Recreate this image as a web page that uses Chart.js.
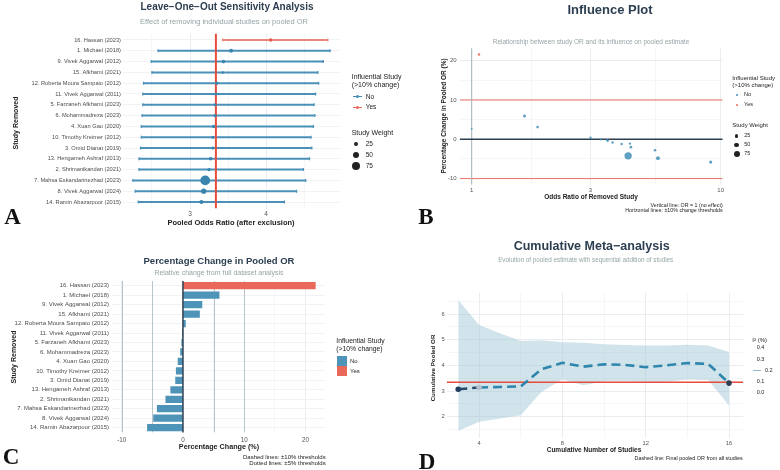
<!DOCTYPE html>
<html>
<head>
<meta charset="utf-8">
<script src="https://cdn.jsdelivr.net/npm/chart.js@4.4.1/dist/chart.umd.min.js"></script>
<style>
    body { margin: 0; background: #fff; }
    #page { position: relative; width: 780px; height: 470px; overflow: hidden; font-family: "Liberation Sans", Arial, sans-serif; }
    #page canvas { position: absolute; }
    .t { position: absolute; white-space: nowrap; line-height: 1; }
    .k { position: absolute; }
</style>
</head>
<body>
<div id="page">
    <canvas id="looChart" width="390" height="235" style="left:0;top:0"></canvas>
    <canvas id="influenceChart" width="390" height="235" style="left:390px;top:0"></canvas>
    <canvas id="pctChart" width="390" height="235" style="left:0;top:235px"></canvas>
    <canvas id="cumChart" width="390" height="235" style="left:390px;top:235px"></canvas>
</div>
<script>
// ---- data ----
const studies = [
    '16. Hassan (2023)', '1. Michael (2018)', '9. Vivek Aggarwal (2012)', '15. Afkhami (2021)',
    '12. Roberta Moura Sampaio (2012)', '11. Vivek Aggarwal (2011)', '5. Farzaneh Afkhami (2023)',
    '6. Mohammadreza (2023)', '4. Xuan Gao (2020)', '10. Timothy Kreimer (2012)', '3. Omid Dianat (2019)',
    '13. Hengameh Ashraf (2013)', '2. Shrimanikandan (2021)', '7. Mahsa Eskandarinezhad (2023)',
    '8. Vivek Aggarwal (2024)', '14. Ramin Abazarpoor (2015)'
];
const looOR = [4.06, 3.54, 3.44, 3.43, 3.35, 3.34, 3.33, 3.33, 3.31, 3.30, 3.30, 3.27, 3.25, 3.20, 3.18, 3.15];
const looLower = [3.43, 2.58, 2.49, 2.50, 2.39, 2.38, 2.38, 2.37, 2.36, 2.36, 2.35, 2.33, 2.33, 2.25, 2.28, 2.32];
const looUpper = [4.81, 4.84, 4.75, 4.68, 4.69, 4.65, 4.63, 4.64, 4.62, 4.59, 4.60, 4.57, 4.49, 4.52, 4.40, 4.24];
const pctChange = [21.6, 5.9, 3.1, 2.7, 0.4, -0.05, -0.2, -0.4, -0.8, -1.1, -1.2, -2.0, -2.8, -4.2, -4.8, -5.8];
const studyOR = [1.07, 1.63, 1.84, 1.0, 3.0, 3.3, 3.5, 3.52, 3.68, 4.32, 4.0, 4.36, 5.45, 4.25, 5.6, 9.12];
const studyWeight = [12, 20, 15, 1, 10, 6, 8, 9, 10, 9, 9, 14, 13, 92, 35, 22];
const pooledOR = 3.34;
const weightKeys = [25, 50, 75];

const cumStudies = [3, 4, 5, 6, 7, 8, 9, 10, 11, 12, 13, 14, 15, 16];
const cumOR = [3.07, 3.14, 3.16, 3.18, 3.85, 4.10, 3.95, 4.04, 4.02, 3.93, 4.00, 4.09, 4.06, 3.31];
const cumLower = [1.44, 1.80, 1.93, 2.06, 2.97, 3.45, 3.23, 3.38, 3.38, 3.36, 3.36, 3.45, 3.43, 2.44];
const cumUpper = [6.55, 5.57, 5.25, 4.95, 4.98, 4.90, 4.88, 4.82, 4.79, 4.77, 4.77, 4.80, 4.77, 4.52];
const i2Keys = ['0.4', '0.3', '0.2', '0.1', '0.0'];

// tick positions (labelled ones and minor grid)
const looTicks = [2.5, 3, 3.5, 4, 4.5];
const influenceXTicks = [1, Math.sqrt(3), 3, Math.sqrt(30), 10];
const influenceXLabels = [1, 3, 10];
const influenceYTicks = [-10, -5, 0, 5, 10, 15, 20];
const pctTicks = [-10, -5, 0, 5, 10, 15, 20];
const pctRefLines = [-10, -5, 5, 10];
const cumXTicks = [4, 6, 8, 10, 12, 14, 16];
const cumYTicks = [1.5, 2, 2.5, 3, 3.5, 4, 4.5, 5, 5.5, 6, 6.5];

const FONT = 'Liberation Sans';
const blue = '#4290b8';
const red = '#e8685a';
const isInfluential = pctChange.map(v => Math.abs(v) > 10);

$ready();

function $ready() {
    initializeLooChart();
    initializeInfluenceChart();
    initializePctChart();
    initializeCumChart();
    addLabels();
}

// helpers to pin the plot area inside each 390x235 canvas
function pinned(area) {
    return { padding: { left: 0, top: area.top, right: 390 - area.right, bottom: 0 } };
}
function fitWidth(w) { return function (scale) { scale.width = w; }; }
function fitHeight(h) { return function (scale) { scale.height = h; }; }
function useTicks(values) {
    return function (scale) { scale.ticks = values.map(v => ({ value: v })); };
}
function gridColour(isMajor) {
    return function (c) { return isMajor(c.tick.value) ? '#e9edef' : '#f4f6f7'; };
}
function tickFont(size) { return { family: FONT, size: size }; }

// Panel A: leave-one-out forest plot
function initializeLooChart() {
    let area = { left: 123, right: 340, top: 33.5, bottom: 208.5 };
    let radius = w => 1.2 + 0.04 * w;
    let datasets = [{
        data: looOR.map((v, i) => ({ x: v, y: i + 1 })),
        pointRadius: studyWeight.map(radius),
        pointBackgroundColor: isInfluential.map(f => f ? '#e5574a' : '#3a85ae'),
        pointBorderWidth: 0,
        order: 0
    }, {
        data: [{ x: pooledOR, y: 0.4 }, { x: pooledOR, y: 16.6 }],
        showLine: true, borderColor: '#e74c3c', borderWidth: 2, pointRadius: 0, order: 1
    }];
    studies.forEach((s, i) => {
        let col = isInfluential[i] ? '#ec8678' : '#4a90b8';
        datasets.push({
            data: [{ x: looLower[i], y: i + 1 }, { x: looUpper[i], y: i + 1 }],
            showLine: true, borderColor: col, borderWidth: 2,
            pointStyle: 'line', rotation: 90, pointRadius: 1.5,
            pointBorderColor: col, pointBorderWidth: 1.2, order: 2
        });
    });
    let ctx = document.getElementById('looChart').getContext('2d');
    new Chart(ctx, {
        type: 'scatter',
        data: { datasets: datasets },
        options: {
            responsive: false, animation: false, events: [],
            layout: pinned(area),
            plugins: { legend: { display: false }, tooltip: { enabled: false } },
            scales: {
                x: {
                    type: 'linear', min: 2.12, max: 4.97,
                    afterFit: fitHeight(235 - area.bottom),
                    afterBuildTicks: useTicks(looTicks),
                    grid: { color: gridColour(v => Number.isInteger(v)), drawTicks: false },
                    border: { display: false },
                    ticks: { padding: 2, color: '#555', font: tickFont(6.5), autoSkip: false,
                        callback: v => Number.isInteger(v) ? v : '' }
                },
                y: {
                    type: 'linear', min: 0.4, max: 16.6, reverse: true,
                    afterFit: fitWidth(area.left),
                    afterBuildTicks: useTicks(studies.map((s, i) => i + 1)),
                    grid: { color: '#f0f2f3', drawTicks: false },
                    border: { display: false },
                    ticks: { padding: 2, color: '#4d4d4d', font: tickFont(5.7), autoSkip: false,
                        callback: v => studies[v - 1] }
                }
            }
        }
    });
}

// Panel B: influence plot (log OR axis)
function initializeInfluenceChart() {
    let area = { left: 69.7, right: 332.7, top: 48.2, bottom: 184.8 };
    let xMin = 0.895, xMax = 10.19, yMin = -11.58, yMax = 23.18;
    let radius = w => 0.9 + 0.03 * w;
    let datasets = [{
        data: studyOR.map((v, i) => ({ x: v, y: pctChange[i] })),
        pointRadius: studyWeight.map(radius),
        pointBackgroundColor: isInfluential.map(f => f ? 'rgba(232,104,90,0.9)' : 'rgba(66,144,184,0.85)'),
        pointBorderWidth: 0, order: 0
    }, {
        data: [{ x: xMin, y: 0 }, { x: xMax, y: 0 }],
        showLine: true, borderColor: '#2c3e50', borderWidth: 1.5, pointRadius: 0, order: 1
    }, {
        data: [{ x: 1, y: yMin }, { x: 1, y: yMax }],
        showLine: true, borderColor: '#a6b3bb', borderWidth: 1, pointRadius: 0, order: 1
    }, {
        data: [{ x: xMin, y: 10 }, { x: xMax, y: 10 }],
        showLine: true, borderColor: '#ec7063', borderWidth: 1, pointRadius: 0, order: 1
    }, {
        data: [{ x: xMin, y: -10 }, { x: xMax, y: -10 }],
        showLine: true, borderColor: '#ec7063', borderWidth: 1, pointRadius: 0, order: 1
    }];
    let ctx = document.getElementById('influenceChart').getContext('2d');
    new Chart(ctx, {
        type: 'scatter',
        data: { datasets: datasets },
        options: {
            responsive: false, animation: false, events: [],
            layout: pinned(area),
            plugins: { legend: { display: false }, tooltip: { enabled: false } },
            scales: {
                x: {
                    type: 'logarithmic', min: xMin, max: xMax,
                    afterFit: fitHeight(235 - area.bottom),
                    afterBuildTicks: useTicks(influenceXTicks),
                    grid: { color: gridColour(v => influenceXLabels.includes(v)), drawTicks: false },
                    border: { display: false },
                    ticks: { padding: 2, color: '#555', font: tickFont(6), autoSkip: false,
                        callback: v => influenceXLabels.includes(v) ? v : '' }
                },
                y: {
                    type: 'linear', min: yMin, max: yMax,
                    afterFit: fitWidth(area.left),
                    afterBuildTicks: useTicks(influenceYTicks),
                    grid: { color: gridColour(v => v % 10 === 0), drawTicks: false },
                    border: { display: false },
                    ticks: { padding: 3, color: '#555', font: tickFont(6), autoSkip: false,
                        callback: v => v % 10 === 0 ? v : '' }
                }
            }
        }
    });
}

// Panel C: percentage change bars
function initializePctChart() {
    let area = { left: 112, right: 325, top: 46, bottom: 197.4 };
    let refLines = {
        id: 'refLines',
        beforeDatasetsDraw(chart) {
            let x = chart.scales.x, a = chart.chartArea, c = chart.ctx;
            c.save();
            c.strokeStyle = '#b9c4ca';
            c.lineWidth = 1;
            pctRefLines.forEach(v => {
                let px = Math.round(x.getPixelForValue(v)) + 0.5;
                c.beginPath(); c.moveTo(px, a.top); c.lineTo(px, a.bottom); c.stroke();
            });
            c.restore();
        },
        afterDatasetsDraw(chart) {
            let x = chart.scales.x, a = chart.chartArea, c = chart.ctx;
            let px = x.getPixelForValue(0);
            c.save();
            c.strokeStyle = '#2c3e50';
            c.lineWidth = 1.5;
            c.beginPath(); c.moveTo(px, a.top); c.lineTo(px, a.bottom); c.stroke();
            c.restore();
        }
    };
    let ctx = document.getElementById('pctChart').getContext('2d');
    new Chart(ctx, {
        type: 'bar',
        data: {
            labels: studies,
            datasets: [{
                data: pctChange,
                backgroundColor: isInfluential.map(f => f ? red : '#4d94b8'),
                borderWidth: 0,
                barThickness: 6.6
            }]
        },
        options: {
            indexAxis: 'y',
            responsive: false, animation: false, events: [],
            layout: pinned(area),
            plugins: { legend: { display: false }, tooltip: { enabled: false } },
            scales: {
                x: {
                    type: 'linear', min: -11.58, max: 23.18,
                    afterFit: fitHeight(235 - area.bottom),
                    afterBuildTicks: useTicks(pctTicks),
                    grid: { color: gridColour(v => v % 10 === 0), drawTicks: false },
                    border: { display: false },
                    ticks: { padding: 4, color: '#555', font: tickFont(6.3), autoSkip: false,
                        callback: v => v % 10 === 0 ? v : '' }
                },
                y: {
                    afterFit: fitWidth(area.left),
                    grid: { color: '#f0f2f3', drawTicks: false, offset: false },
                    border: { display: false },
                    ticks: { padding: 3, color: '#4d4d4d', font: tickFont(6), autoSkip: false }
                }
            }
        },
        plugins: [refLines]
    });
}

// Panel D: cumulative meta-analysis
function initializeCumChart() {
    let area = { left: 56.8, right: 353.2, top: 58, bottom: 203 };
    let xMin = 2.45, xMax = 16.68;
    let last = cumStudies.length - 1;
    let ctx = document.getElementById('cumChart').getContext('2d');
    new Chart(ctx, {
        type: 'line',
        data: {
            datasets: [{
                data: cumStudies.map((n, i) => ({ x: n, y: cumOR[i] })),
                borderColor: '#2f86ad', borderWidth: 2.6, borderDash: [9, 5],
                segment: { borderColor: s => s.p0DataIndex === 0 ? '#24496b' : '#2f86ad' },
                pointRadius: cumStudies.map((n, i) => (i <= 1 || i === last) ? 2.8 : 0),
                pointBackgroundColor: cumStudies.map((n, i) => i === 1 ? '#b3c2cc' : (i === 0 ? '#1f3d5c' : '#2c3e50')),
                pointBorderWidth: 0, tension: 0, fill: false, order: 0
            }, {
                data: [{ x: xMin, y: pooledOR }, { x: xMax, y: pooledOR }],
                borderColor: '#e74c3c', borderWidth: 1.6, pointRadius: 0, fill: false, order: 1
            }, {
                data: cumStudies.map((n, i) => ({ x: n, y: cumUpper[i] })),
                borderWidth: 0, pointRadius: 0, fill: '+1',
                backgroundColor: 'rgba(163,199,216,0.5)', order: 2
            }, {
                data: cumStudies.map((n, i) => ({ x: n, y: cumLower[i] })),
                borderWidth: 0, pointRadius: 0, fill: false, order: 3
            }]
        },
        options: {
            responsive: false, animation: false, events: [],
            layout: pinned(area),
            plugins: { legend: { display: false }, tooltip: { enabled: false } },
            scales: {
                x: {
                    type: 'linear', min: xMin, max: xMax,
                    afterFit: fitHeight(235 - area.bottom),
                    afterBuildTicks: useTicks(cumXTicks),
                    grid: { color: gridColour(v => v % 4 === 0), drawTicks: false },
                    border: { display: false },
                    ticks: { padding: 2, color: '#555', font: tickFont(5.8), autoSkip: false,
                        callback: v => v % 4 === 0 ? v : '' }
                },
                y: {
                    type: 'linear', min: 1.17, max: 6.82,
                    afterFit: fitWidth(area.left),
                    afterBuildTicks: useTicks(cumYTicks),
                    grid: { color: gridColour(v => Number.isInteger(v)), drawTicks: false },
                    border: { display: false },
                    ticks: { padding: 2, color: '#555', font: tickFont(5.8), autoSkip: false,
                        callback: v => Number.isInteger(v) ? v : '' }
                }
            }
        }
    });
}

// ---- text, legends and panel letters ----
function addText(x, y, text, size, opts) {
    opts = opts || {};
    let el = document.createElement('div');
    el.className = 't';
    el.textContent = text;
    el.style.left = x + 'px';
    el.style.top = y + 'px';
    el.style.fontSize = size + 'px';
    el.style.fontWeight = opts.bold ? 'bold' : 'normal';
    el.style.color = opts.color || '#222';
    if (opts.font) el.style.fontFamily = opts.font;
    let tx = opts.align === 'left' ? '0' : (opts.align === 'right' ? '-100%' : '-50%');
    el.style.transform = 'translate(' + tx + ',-50%)' + (opts.rotate ? ' rotate(-90deg)' : '');
    document.getElementById('page').appendChild(el);
}
function addKey(x, y, w, h, colour, round) {
    let el = document.createElement('div');
    el.className = 'k';
    el.style.left = (x - w / 2) + 'px';
    el.style.top = (y - h / 2) + 'px';
    el.style.width = w + 'px';
    el.style.height = h + 'px';
    el.style.background = colour;
    if (round) el.style.borderRadius = '50%';
    document.getElementById('page').appendChild(el);
}

function addLabels() {
    const navy = '#2c3e50', grey = '#95a5a6', serif = '"Liberation Serif", "Times New Roman", serif';

    // A
    addText(227, 7, 'Leave\u2212One\u2212Out Sensitivity Analysis', 10, { bold: true, color: navy });
    addText(224, 22.3, 'Effect of removing individual studies on pooled OR', 7.5, { color: grey });
    addText(231, 222.7, 'Pooled Odds Ratio (after exclusion)', 7.5, { bold: true });
    addText(15, 122.5, 'Study Removed', 7, { bold: true, rotate: true });
    addText(351.7, 76, 'Influential Study', 7, { align: 'left' });
    addText(351.7, 84.3, '(>10% change)', 7, { align: 'left' });
    addKey(357.2, 96.7, 9, 1.5, blue);
    addKey(357.2, 96.7, 3, 3, blue, true);
    addText(365.7, 96.7, 'No', 6.5, { align: 'left' });
    addKey(357.2, 107.3, 9, 1.5, red);
    addKey(357.2, 107.3, 3, 3, red, true);
    addText(365.7, 107.3, 'Yes', 6.5, { align: 'left' });
    addText(351.7, 131.7, 'Study Weight', 7, { align: 'left' });
    weightKeys.forEach((w, i) => {
        let r = 1.2 + 0.04 * w;
        addKey(356.3, 143.7 + i * 11, 2 * r, 2 * r, '#222', true);
        addText(365.7, 143.7 + i * 11, String(w), 6.5, { align: 'left' });
    });
    addText(12.5, 216, 'A', 23, { bold: true, font: serif, color: '#111' });

    // B
    addText(610, 9.3, 'Influence Plot', 13, { bold: true, color: navy });
    addText(591, 41.7, 'Relationship between study OR and its influence on pooled estimate', 6.5, { color: grey });
    addText(591, 196.7, 'Odds Ratio of Removed Study', 6.5, { bold: true });
    addText(444, 116, 'Percentage Change in Pooled OR (%)', 6.5, { bold: true, rotate: true });
    addText(722.7, 205.7, 'Vertical line: OR = 1 (no effect)', 5.3, { align: 'right' });
    addText(722.7, 211.3, 'Horizontal lines: \u00b110% change thresholds', 5.3, { align: 'right' });
    addText(732.3, 77.7, 'Influential Study', 6, { align: 'left' });
    addText(732.3, 84.7, '(>10% change)', 6, { align: 'left' });
    addKey(736.7, 95, 2.4, 2.4, blue, true);
    addText(744, 95, 'No', 5.5, { align: 'left' });
    addKey(736.7, 104.7, 2.4, 2.4, red, true);
    addText(744, 104.7, 'Yes', 5.5, { align: 'left' });
    addText(732.3, 125, 'Study Weight', 6, { align: 'left' });
    weightKeys.forEach((w, i) => {
        let r = 0.9 + 0.03 * w;
        addKey(736.7, 136 + i * 9, 2 * r, 2 * r, '#222', true);
        addText(744.3, 136 + i * 9, String(w), 5.5, { align: 'left' });
    });
    addText(426, 216, 'B', 23, { bold: true, font: serif, color: '#111' });

    // C
    addText(219, 260.7, 'Percentage Change in Pooled OR', 9.5, { bold: true, color: navy });
    addText(219, 271.7, 'Relative change from full dataset analysis', 7, { color: grey });
    addText(219, 447, 'Percentage Change (%)', 7.2, { bold: true });
    addText(13, 356.7, 'Study Removed', 7, { bold: true, rotate: true });
    addText(325.7, 456.7, 'Dashed lines: \u00b110% thresholds', 6, { align: 'right' });
    addText(325.7, 463.3, 'Dotted lines: \u00b15% thresholds', 6, { align: 'right' });
    addText(336.3, 341, 'Influential Study', 6.8, { align: 'left' });
    addText(336.3, 349, '(>10% change)', 6.8, { align: 'left' });
    addKey(341.7, 361, 10, 9.5, '#4d94b8');
    addText(350, 361, 'No', 6, { align: 'left' });
    addKey(341.7, 371, 10, 9.5, red);
    addText(350, 371, 'Yes', 6, { align: 'left' });
    addText(11, 455.5, 'C', 23, { bold: true, font: serif, color: '#111' });

    // D
    addText(591.7, 245.7, 'Cumulative Meta\u2212analysis', 12.5, { bold: true, color: navy });
    addText(585.7, 260, 'Evolution of pooled estimate with sequential addition of studies', 6.3, { color: grey });
    addText(594, 450, 'Cumulative Number of Studies', 6.5, { bold: true });
    addText(433.3, 368.3, 'Cumulative Pooled OR', 6.2, { bold: true, rotate: true });
    addText(742.7, 459.3, 'Dashed line: Final pooled OR from all studies', 5.4, { align: 'right' });
    addText(752.3, 340, 'I\u00b2 (%)', 6, { align: 'left' });
    i2Keys.forEach((k, i) => {
        let y = 348.3 + i * 11.2;
        if (k === '0.2') {
            addKey(757, y, 7.5, 1.5, '#8fb3c8');
            addText(765, y, k, 5.5, { align: 'left' });
        } else {
            addText(756.7, y, k, 5.5, { align: 'left' });
        }
    });
    addText(427, 461, 'D', 23, { bold: true, font: serif, color: '#111' });
}
</script>
</body>
</html>
